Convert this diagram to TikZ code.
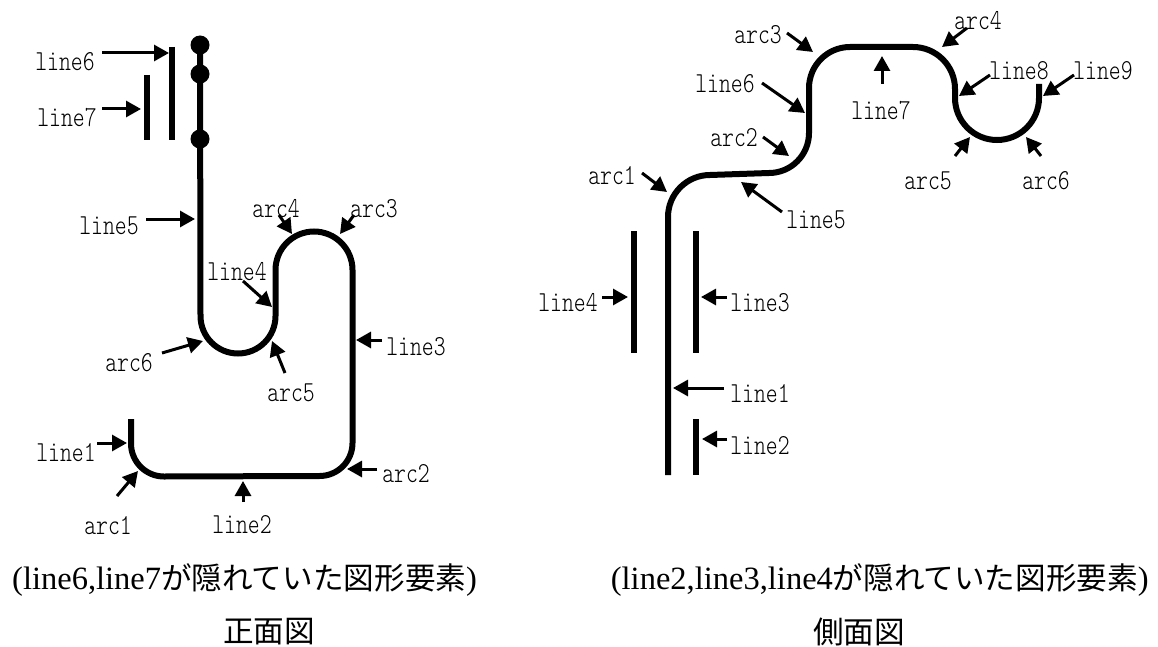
\documentclass[tikz,border=0pt]{standalone}
\usepackage{fontspec}
\usepackage{tikz}
\usetikzlibrary{arrows.meta}
\setmainfont{Liberation Serif}
\newfontfamily\jpfont{Noto Sans CJK JP}
\newfontfamily\lblfont[FakeStretch=0.78]{Latin Modern Mono Light}
\tikzset{
    lbl/.style={inner sep=0pt, font=\lblfont\fontsize{29}{29}\selectfont},
    pointer/.style={line width=3pt, -{Triangle[length=15pt,width=16pt]}},
    outline/.style={line width=6pt},
    bar/.style={line width=6pt},
    dot/.style={shape=circle, fill=black, minimum size=19pt, inner sep=0pt},
    caption/.style={inner sep=0pt, font=\fontsize{32.5}{33}\selectfont},
    title/.style={inner sep=0pt, font=\jpfont\fontsize{30.6}{30.6}\selectfont}
}
\newcommand{\jpsized}[1]{{\jpfont\fontsize{30.6}{30.6}\selectfont #1}}
\begin{document}
\begin{tikzpicture}[x=1pt, y=-1pt]
    \useasboundingbox (0,0) rectangle (1158,647);
    % front view
    \node[dot] (P1) at (200,45) {};
    \node[dot] (P2) at (200,74) {};
    \node[dot] (P3) at (200,139) {};
    \draw[outline] (P1.center) -- (200.5,316) arc[start angle=180, end angle=0, radius=37.5]
        -- (275.5,270) arc[start angle=180, end angle=360, radius=38.5]
        -- (352.5,443) arc[start angle=0, end angle=90, radius=33]
        -- (164,476.5) arc[start angle=90, end angle=180, radius=33]
        -- (131,419);
    \draw[bar] (172,47) to (172,140);
    \draw[bar] (147,75) to (147,140);

    \node[lbl] (FL6) at (65,62) {line6};
    \coordinate (FL6a) at (102,53);
    \coordinate (FL6b) at (169,53);
    \draw[pointer] (FL6a) to (FL6b);
    \node[lbl] (FL7) at (67,118) {line7};
    \coordinate (FL7a) at (102,109);
    \coordinate (FL7b) at (141,109);
    \draw[pointer] (FL7a) to (FL7b);
    \node[lbl] (FL5) at (109,226) {line5};
    \coordinate (FL5a) at (146,219);
    \coordinate (FL5b) at (195,219);
    \draw[pointer] (FL5a) to (FL5b);
    \node[lbl] (FA4) at (276,209) {arc4};
    \coordinate (FA4a) at (279,215);
    \coordinate (FA4b) at (292,234);
    \draw[pointer] (FA4a) to (FA4b);
    \node[lbl] (FA3) at (374,209) {arc3};
    \coordinate (FA3a) at (354,215);
    \coordinate (FA3b) at (340,234);
    \draw[pointer] (FA3a) to (FA3b);
    \node[lbl] (FL4) at (237,272) {line4};
    \coordinate (FL4a) at (243,281);
    \coordinate (FL4b) at (272,307);
    \draw[pointer] (FL4a) to (FL4b);
    \node[lbl] (FA6) at (129,363) {arc6};
    \coordinate (FA6a) at (162,353);
    \coordinate (FA6b) at (203,341);
    \draw[pointer] (FA6a) to (FA6b);
    \node[lbl] (FA5) at (291,393) {arc5};
    \coordinate (FA5a) at (285,373);
    \coordinate (FA5b) at (272,341);
    \draw[pointer] (FA5a) to (FA5b);
    \node[lbl] (FL3) at (416,347) {line3};
    \coordinate (FL3a) at (382,340);
    \coordinate (FL3b) at (356,340);
    \draw[pointer] (FL3a) to (FL3b);
    \node[lbl] (FL1) at (66,453) {line1};
    \coordinate (FL1a) at (97,443);
    \coordinate (FL1b) at (127,443);
    \draw[pointer] (FL1a) to (FL1b);
    \node[lbl] (FA1) at (108,526) {arc1};
    \coordinate (FA1a) at (117,496);
    \coordinate (FA1b) at (138,471);
    \draw[pointer] (FA1a) to (FA1b);
    \node[lbl] (FL2) at (242,525) {line2};
    \coordinate (FL2a) at (243,502);
    \coordinate (FL2b) at (243,481);
    \draw[pointer] (FL2a) to (FL2b);
    \node[lbl] (FA2) at (406,474) {arc2};
    \coordinate (FA2a) at (377,469);
    \coordinate (FA2b) at (347,469);
    \draw[pointer] (FA2a) to (FA2b);

    % side view
    \draw[outline] (668,475) -- (668,217) arc[start angle=180, end angle=270, radius=42]
        -- (769,173) arc[start angle=90, end angle=0, radius=40]
        -- (809,88) arc[start angle=180, end angle=270, radius=41]
        -- (913,47) arc[start angle=270, end angle=360, radius=42]
        -- (955,98) arc[start angle=180, end angle=0, radius=42]
        -- (1039,84);
    \draw[bar] (634,231) to (634,353);
    \draw[bar] (696,231) to (696,353);
    \draw[bar] (696,419) to (696,475);

    \node[lbl] (SL4) at (568,303) {line4};
    \coordinate (SL4a) at (602,297);
    \coordinate (SL4b) at (628,297);
    \draw[pointer] (SL4a) to (SL4b);
    \node[lbl] (SL3) at (760,303) {line3};
    \coordinate (SL3a) at (727,297);
    \coordinate (SL3b) at (701,297);
    \draw[pointer] (SL3a) to (SL3b);
    \node[lbl] (SL1) at (760,394) {line1};
    \coordinate (SL1a) at (724,388);
    \coordinate (SL1b) at (673,388);
    \draw[pointer] (SL1a) to (SL1b);
    \node[lbl] (SL2) at (760,446) {line2};
    \coordinate (SL2a) at (727,439);
    \coordinate (SL2b) at (702,439);
    \draw[pointer] (SL2a) to (SL2b);
    \node[lbl] (SA3) at (758,35) {arc3};
    \coordinate (SA3a) at (787,33);
    \coordinate (SA3b) at (813,52);
    \draw[pointer] (SA3a) to (SA3b);
    \node[lbl] (SL6) at (725,84) {line6};
    \coordinate (SL6a) at (762,83);
    \coordinate (SL6b) at (805,113);
    \draw[pointer] (SL6a) to (SL6b);
    \node[lbl] (SA2) at (734,138) {arc2};
    \coordinate (SA2a) at (763,137);
    \coordinate (SA2b) at (789,156);
    \draw[pointer] (SA2a) to (SA2b);
    \node[lbl] (SA1) at (612,176) {arc1};
    \coordinate (SA1a) at (642,173);
    \coordinate (SA1b) at (667,192);
    \draw[pointer] (SA1a) to (SA1b);
    \node[lbl] (SL5) at (816,220) {line5};
    \coordinate (SL5a) at (782,212);
    \coordinate (SL5b) at (741,182);
    \draw[pointer] (SL5a) to (SL5b);
    \node[lbl] (SA4) at (978,21) {arc4};
    \coordinate (SA4a) at (967,28);
    \coordinate (SA4b) at (942,47);
    \draw[pointer] (SA4a) to (SA4b);
    \node[lbl] (SL7) at (881,111) {line7};
    \coordinate (SL7a) at (882,84);
    \coordinate (SL7b) at (882,56);
    \draw[pointer] (SL7a) to (SL7b);
    \node[lbl] (SL8) at (1019,71) {line8};
    \coordinate (SL8a) at (990,75);
    \coordinate (SL8b) at (959,96);
    \draw[pointer] (SL8a) to (SL8b);
    \node[lbl] (SL9) at (1103,71) {line9};
    \coordinate (SL9a) at (1074,75);
    \coordinate (SL9b) at (1043,96);
    \draw[pointer] (SL9a) to (SL9b);
    \node[lbl] (SA5) at (928,181) {arc5};
    \coordinate (SA5a) at (955,156);
    \coordinate (SA5b) at (970,137);
    \draw[pointer] (SA5a) to (SA5b);
    \node[lbl] (SA6) at (1046,181) {arc6};
    \coordinate (SA6a) at (1041,156);
    \coordinate (SA6b) at (1026,137);
    \draw[pointer] (SA6a) to (SA6b);

    % captions
    \node[caption, anchor=base west] (CapF) at (12,589) {(line6,line7\jpsized{が隠れていた図形要素})};
    \node[caption, anchor=base east] (CapS) at (1149,589) {(line2,line3,line4\jpsized{が隠れていた図形要素})};
    \node[title] (TitF) at (269,632) {正面図};
    \node[title] (TitS) at (859,632) {側面図};
\end{tikzpicture}
\end{document}
